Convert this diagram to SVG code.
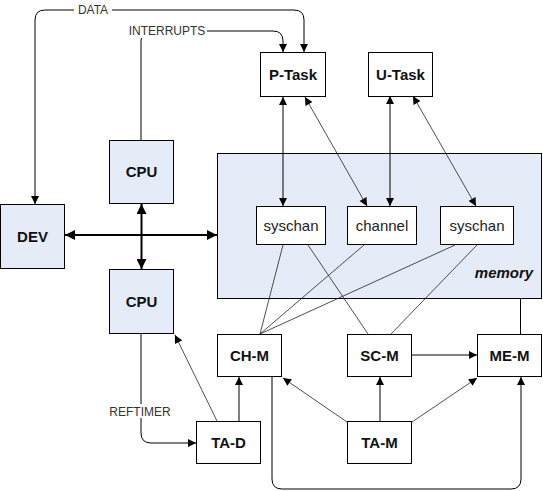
<svg xmlns="http://www.w3.org/2000/svg" width="543" height="491" viewBox="0 0 543 491">
<defs>
<style>
.box{fill:#fff;stroke:#000;stroke-width:1}
.blue{fill:#E6ECF7;stroke:#000;stroke-width:1}
.lbl{font-family:"Liberation Sans",Arial,sans-serif;font-size:15px;font-weight:bold;text-anchor:middle;fill:#111}
.reg{font-family:"Liberation Sans",Arial,sans-serif;font-size:15px;text-anchor:middle;fill:#222}
.cap{font-family:"Liberation Sans",Arial,sans-serif;font-size:12px;text-anchor:middle;fill:#333}
.ln{fill:none;stroke:#000;stroke-width:1}
.thin{fill:none;stroke:#222;stroke-width:0.8}
.thick{fill:none;stroke:#000;stroke-width:2}
.a{marker-end:url(#ah)}
.aa{marker-start:url(#ah);marker-end:url(#ah)}
.tt{marker-start:url(#ahT);marker-end:url(#ahT)}
</style>
<marker id="ah" viewBox="0 0 10 10" refX="10" refY="5" markerWidth="9" markerHeight="8" markerUnits="userSpaceOnUse" orient="auto-start-reverse">
<path d="M0,0 L10,5 L0,10 z" fill="#000"/>
</marker>
<marker id="ahT" viewBox="0 0 10 10" refX="10" refY="5" markerWidth="11" markerHeight="10" markerUnits="userSpaceOnUse" orient="auto-start-reverse">
<path d="M0,0 L10,5 L0,10 z" fill="#000"/>
</marker>
</defs>
<rect width="543" height="491" fill="#fff"/>

<g id="memory">
<rect class="blue" x="217.5" y="153.5" width="324" height="145"/>
<text x="504" y="278" style="font-family:'Liberation Sans',Arial,sans-serif;font-size:15px;font-weight:bold;font-style:italic;text-anchor:middle;fill:#111">memory</text>
</g>

<g id="connectors">
<path class="ln aa" d="M35,204 V20 Q35,10 45,10 H294 Q304,10 304,20 V52"/>
<rect x="74" y="3" width="38" height="13" fill="#fff"/>
<text class="cap" x="93" y="14">DATA</text>
<path class="ln" d="M141,140 V41 Q141,31 151,31"/>
<path class="ln a" d="M205,31 H273 Q283,31 283,41 V52"/>
<rect x="127" y="24" width="80" height="14" fill="#fff"/>
<text class="cap" x="167" y="35">INTERRUPTS</text>
<path class="ln a" d="M141,334 V433 Q141,443 151,443 H196"/>
<rect x="107" y="404" width="66" height="14" fill="#fff"/>
<text class="cap" x="140" y="416">REFTIMER</text>

<line class="thick tt" x1="65" y1="235" x2="217" y2="235"/>
<line class="thick tt" x1="141.5" y1="204" x2="141.5" y2="269"/>

<line class="ln aa" x1="283" y1="97" x2="283" y2="206"/>
<line class="thin aa" x1="305" y1="97" x2="367" y2="206"/>
<line class="ln aa" x1="390" y1="96" x2="390" y2="206"/>
<line class="thin aa" x1="413" y1="96" x2="476" y2="206"/>

<line class="thin" x1="283" y1="245" x2="260" y2="334"/>
<line class="thin" x1="364" y1="245" x2="260" y2="334"/>
<line class="thin" x1="455" y1="245" x2="260" y2="334"/>
<line class="thin" x1="308" y1="245" x2="368" y2="334"/>
<line class="thin" x1="477" y1="245" x2="391" y2="334"/>
<line class="ln" x1="520.5" y1="299" x2="520.5" y2="334"/>

<line class="ln a" x1="412" y1="355" x2="477" y2="355"/>
<line class="ln a" x1="380" y1="421" x2="380" y2="377"/>
<line class="thin a" x1="347" y1="422" x2="283" y2="378"/>
<line class="thin a" x1="412" y1="422" x2="477" y2="378"/>
<line class="ln a" x1="239" y1="421" x2="239" y2="377"/>
<line class="thin a" x1="217" y1="421" x2="175" y2="335"/>
<path class="ln a" d="M272,377 V479 Q272,489 282,489 H511 Q521,489 521,479 V377"/>
</g>

<g id="p-task"><rect class="box" x="260.5" y="52.5" width="65" height="44"/><text class="lbl" x="293" y="80">P-Task</text></g>
<g id="u-task"><rect class="box" x="368.5" y="52.5" width="64" height="44"/><text class="lbl" x="400.5" y="80">U-Task</text></g>
<g id="cpu-top"><rect class="blue" x="109.5" y="140.5" width="64" height="63"/><text class="lbl" x="141.5" y="177">CPU</text></g>
<g id="dev"><rect class="blue" x="0.5" y="204.5" width="64" height="64"/><text class="lbl" x="32.5" y="242">DEV</text></g>
<g id="cpu-bottom"><rect class="blue" x="109.5" y="269.5" width="64" height="64"/><text class="lbl" x="141.5" y="307">CPU</text></g>
<g id="syschan1"><rect class="box" x="256.5" y="206.5" width="69" height="38"/><text class="reg" x="291" y="231">syschan</text></g>
<g id="channel"><rect class="box" x="347.5" y="206.5" width="69" height="38"/><text class="reg" x="382" y="231">channel</text></g>
<g id="syschan2"><rect class="box" x="440.5" y="206.5" width="73" height="38"/><text class="reg" x="477" y="231">syschan</text></g>
<g id="ch-m"><rect class="box" x="217.5" y="334.5" width="64" height="42"/><text class="lbl" x="249.5" y="361">CH-M</text></g>
<g id="sc-m"><rect class="box" x="347.5" y="334.5" width="64" height="42"/><text class="lbl" x="379.5" y="361">SC-M</text></g>
<g id="me-m"><rect class="box" x="477.5" y="334.5" width="64" height="42"/><text class="lbl" x="509.5" y="361">ME-M</text></g>
<g id="ta-d"><rect class="box" x="196.5" y="421.5" width="64" height="42"/><text class="lbl" x="228.5" y="448">TA-D</text></g>
<g id="ta-m"><rect class="box" x="347.5" y="421.5" width="64" height="42"/><text class="lbl" x="379.5" y="448">TA-M</text></g>
</svg>
